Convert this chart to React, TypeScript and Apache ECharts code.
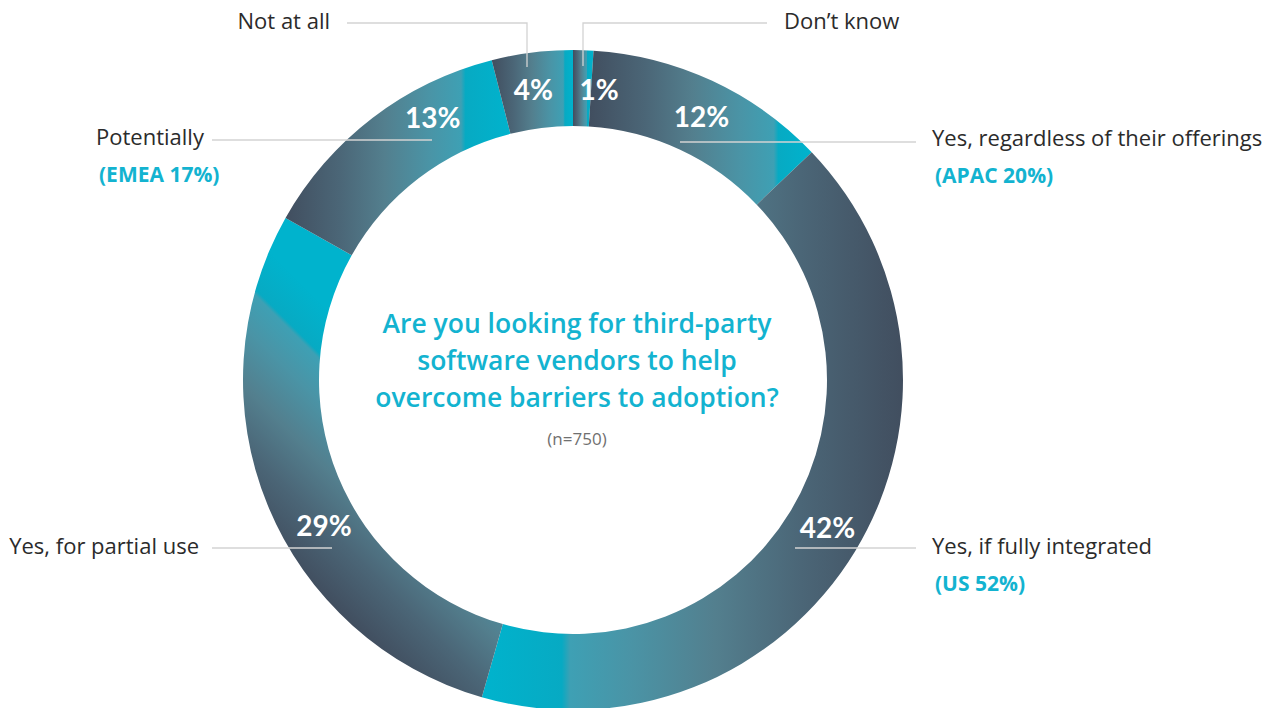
import React, { useEffect, useRef } from "react";
import * as echarts from "echarts";

// ---- data ----
const categories = [
  "Don’t know",
  "Yes, regardless of their offerings",
  "Yes, if fully integrated",
  "Yes, for partial use",
  "Potentially",
  "Not at all",
];
const shares = [1, 12, 42, 29, 13, 4];
const regionNotes = ["", "(APAC 20%)", "(US 52%)", "", "(EMEA 17%)", ""];
const questionLines = [
  "Are you looking for third-party",
  "software vendors to help",
  "overcome barriers to adoption?",
];
const sampleNote = "(n=750)";

// ---- style / layout ----
const FONT = "'Open Sans', Lato, sans-serif";
const NUM_FONT = "Lato, 'Open Sans', sans-serif";
const CX = 573;
const CY = 380;
const R_IN = 254;
const R_OUT = 330;

// gradient vector (dark -> cyan) in slice bounding-box units, and where solid cyan begins
const gradDirs = [
  { v: [0, 0, 1, 0], c: 0.7 },
  { v: [0, 0, 1, 0], c: 0.85 },
  { v: [1, 0, 0, 0], c: 0.81 },
  { v: [0.374, 0.825, 0.629, 0.354], c: 0.82 },
  { v: [0, 0, 1, 0], c: 0.8 },
  { v: [0, 0, 1, 0], c: 0.9 },
];

// nudges of the in-ring percentage labels from their default mid-angle spot
const labelNudges = [
  [17, 4],
  [4, 3],
  [2, -6],
  [24, 33],
  [39, -29],
  [-3, 2],
];

// leader lines & outer label anchors
const leaderLines = [
  [[767, 23], [583, 23], [583, 66]],
  [[680, 142], [916, 142]],
  [[795, 548], [916, 548]],
  [[212, 548], [332, 548]],
  [[212, 140], [432, 140]],
  [[347, 23], [527, 23], [527, 67]],
];
const outerAnchors = [
  { x: 784, y: 20, align: "left" },
  { x: 932, y: 137, align: "left" },
  { x: 932, y: 545, align: "left" },
  { x: 199, y: 545, align: "right" },
  { x: 96, y: 136, align: "left" },
  { x: 330, y: 20, align: "right" },
];
const noteOffset = [1, 38];

function stops(c: number) {
  return [
    { offset: 0, color: "#414e5f" },
    { offset: c * 0.3, color: "#4b6677" },
    { offset: c * 0.55, color: "#537f8e" },
    { offset: c * 0.8, color: "#4a94a6" },
    { offset: c - 0.02, color: "#3ea0b4" },
    { offset: c, color: "#07aac3" },
    { offset: 1, color: "#00b3cd" },
  ];
}

export default function App() {
  const ref = useRef<HTMLDivElement>(null);

  useEffect(() => {
    if (!ref.current) return;
    const chart = echarts.init(ref.current, undefined, { renderer: "svg" });

    const data = shares.map((v, i) => {
      const g = gradDirs[i];
      return {
        name: categories[i],
        value: v,
        itemStyle: {
          color: new echarts.graphic.LinearGradient(
            g.v[0],
            g.v[1],
            g.v[2],
            g.v[3],
            stops(g.c)
          ),
        },
      };
    });

    const graphics: any[] = [];
    leaderLines.forEach((pts) => {
      graphics.push({
        type: "polyline",
        z: 100,
        silent: true,
        shape: { points: pts },
        style: { stroke: "#d3d3d3", lineWidth: 1.3, fill: null },
      });
    });
    categories.forEach((name, i) => {
      const a = outerAnchors[i];
      graphics.push({
        type: "text",
        z: 100,
        x: a.x,
        y: a.y,
        style: {
          text: name,
          fill: "#2b2b2b",
          fontSize: 22,
          fontFamily: FONT,
          fontWeight: "normal",
          align: a.align,
          textAlign: a.align,
          verticalAlign: "middle",
          textVerticalAlign: "middle",
        },
      });
      if (regionNotes[i]) {
        graphics.push({
          type: "text",
          z: 100,
          x: a.x + noteOffset[0] + 2,
          y: a.y + noteOffset[1],
          style: {
            text: regionNotes[i],
            fill: "#13b3d0",
            fontSize: 21,
            fontFamily: FONT,
            fontWeight: "bold",
            align: "left",
            textAlign: "left",
            verticalAlign: "middle",
            textVerticalAlign: "middle",
          },
        });
      }
    });
    questionLines.forEach((line, i) => {
      graphics.push({
        type: "text",
        z: 100,
        x: 577,
        y: 323 + i * 37,
        style: {
          text: line,
          fill: "#13b3d0",
          fontSize: 26.5,
          fontFamily: FONT,
          fontWeight: 600,
          align: "center",
          textAlign: "center",
          verticalAlign: "middle",
          textVerticalAlign: "middle",
        },
      });
    });
    graphics.push({
      type: "text",
      z: 100,
      x: 577,
      y: 438,
      style: {
        text: sampleNote,
        fill: "#707070",
        fontSize: 17,
        fontFamily: FONT,
        align: "center",
        textAlign: "center",
        verticalAlign: "middle",
        textVerticalAlign: "middle",
      },
    });

    chart.setOption({
      animation: false,
      backgroundColor: "#ffffff",
      series: [
        {
          type: "pie",
          silent: true,
          center: [CX, CY],
          radius: [R_IN, R_OUT],
          startAngle: 90,
          clockwise: true,
          avoidLabelOverlap: false,
          itemStyle: { borderWidth: 0 },
          label: {
            show: true,
            position: "inside",
            formatter: "{c}%",
            color: "#ffffff",
            fontSize: 28,
            fontWeight: "bold",
            fontFamily: NUM_FONT,
          },
          labelLine: { show: false },
          labelLayout: (p: any) => ({
            dx: labelNudges[p.dataIndex][0],
            dy: labelNudges[p.dataIndex][1],
          }),
          data,
        },
      ],
      graphic: graphics,
    });

    return () => chart.dispose();
  }, []);

  return (
    <div
      ref={ref}
      style={{ position: "fixed", left: 0, top: 0, width: 1276, height: 708, background: "#fff" }}
    />
  );
}
